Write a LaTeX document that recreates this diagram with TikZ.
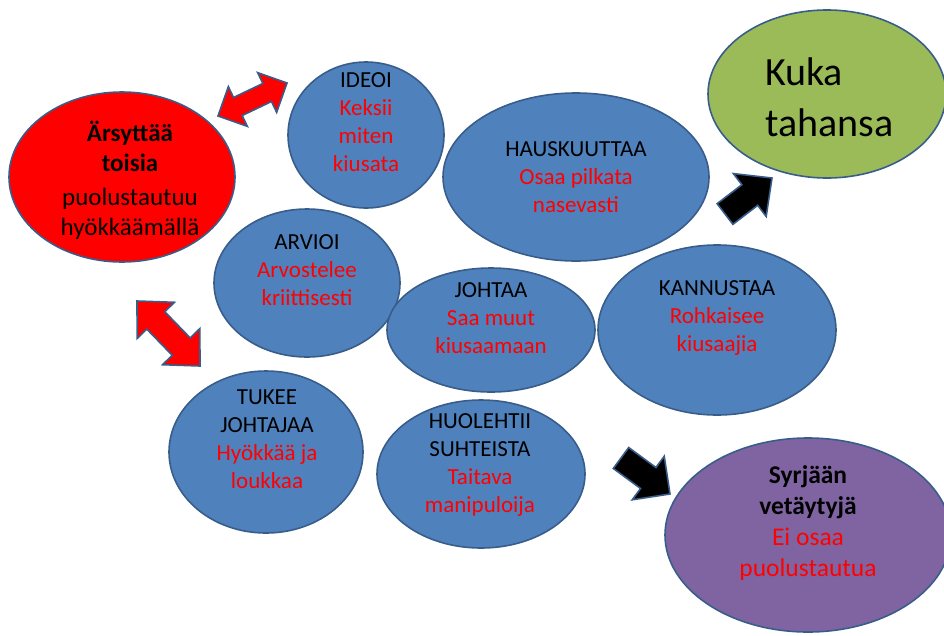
\documentclass[tikz,border=0pt]{standalone}
\usepackage{fontspec}
\setmainfont{Carlito}
\usetikzlibrary{shapes.geometric,calc}
\definecolor{blueF}{HTML}{4F81BD}
\definecolor{blueB}{HTML}{385D8A}
\definecolor{greenF}{HTML}{9BBB59}
\definecolor{purpleF}{HTML}{8064A2}
\definecolor{redT}{HTML}{FF0000}
\tikzset{
  bub/.style={ellipse, draw=blueB, line width=1.6pt, inner sep=0pt, fill=blueF},
  btxt/.style={align=center, font=\fontsize{23}{28}\selectfont, inner sep=0pt, text=black},
  bigtxt/.style={align=center, font=\fontsize{25}{30}\selectfont, inner sep=0pt, text=black},
  blockarrow/.style={draw=blueB, line width=1.6pt, line join=miter},
}
% double block arrow: #1 name, #2 end A, #3 end C, #4 head length, #5 head half width, #6 shaft half width, #7 fill
\newcommand{\myDbl}[7]{%
  \coordinate (#1p) at ($(#2)!#4!(#3)$);
  \coordinate (#1q) at ($(#3)!#4!(#2)$);
  \draw[blockarrow, fill=#7] (#2) -- ($(#1p)!#5!90:(#3)$) -- ($(#1p)!#6!90:(#3)$)
    -- ($(#1q)!#6!-90:(#2)$) -- ($(#1q)!#5!-90:(#2)$) -- (#3)
    -- ($(#1q)!#5!90:(#2)$) -- ($(#1q)!#6!90:(#2)$)
    -- ($(#1p)!#6!-90:(#3)$) -- ($(#1p)!#5!-90:(#3)$) -- cycle;
}
% single block arrow: #1 name, #2 tail, #3 tip, #4 head length, #5 head half width, #6 shaft half width, #7 fill
\newcommand{\mySgl}[7]{%
  \coordinate (#1q) at ($(#3)!#4!(#2)$);
  \draw[blockarrow, fill=#7] ($(#2)!#6!90:(#3)$) -- ($(#1q)!#6!-90:(#2)$) -- ($(#1q)!#5!-90:(#2)$)
    -- (#3) -- ($(#1q)!#5!90:(#2)$) -- ($(#1q)!#6!90:(#2)$) -- ($(#2)!#6!-90:(#3)$) -- cycle;
}
\begin{document}
\begin{tikzpicture}[x=1pt,y=-1pt]
\useasboundingbox (0,0) rectangle (944,635);

% ellipses
\node[bub, fill=redT, minimum width=226pt, minimum height=170pt] (red) at (122,177) {};
\node[bub, minimum width=156pt, minimum height=146pt] (ideoi) at (366,135) {};
\node[bub, minimum width=266pt, minimum height=168pt] (haus) at (576,177) {};
\node[bub, fill=greenF, minimum width=238pt, minimum height=168pt] (kuka) at (827,94) {};
\node[bub, minimum width=186pt, minimum height=148pt] (arvioi) at (307,283) {};
\node[bub, minimum width=208pt, minimum height=124pt] (johtaa) at (491,330) {};
\node[bub, minimum width=238pt, minimum height=170pt] (kannus) at (717,330) {};
\node[bub, minimum width=194pt, minimum height=162pt] (tukee) at (266,452) {};
\node[bub, minimum width=208pt, minimum height=148pt] (huol) at (481,474) {};
\node[bub, fill=purpleF, minimum width=286pt, minimum height=194pt] (syrj) at (808,535) {};

% texts
\node[bigtxt] (tRed) at (130,180) {\textbf{Ärsyttää}\\\textbf{toisia}\\[4pt]puolustautuu\\hyökkäämällä};
\node[btxt] (tIdeoi) at (366,122.5) {IDEOI\\\textcolor{redT}{Keksii}\\\textcolor{redT}{miten}\\\textcolor{redT}{kiusata}};
\node[btxt] (tHaus) at (576,177.5) {HAUSKUUTTAA\\\textcolor{redT}{Osaa pilkata}\\\textcolor{redT}{nasevasti}};
\node[align=left, font=\fontsize{40}{51}\selectfont, inner sep=0pt, anchor=west] (tKuka) at (765,97.5) {Kuka\\tahansa};
\node[btxt] (tArvioi) at (307,270) {ARVIOI\\\textcolor{redT}{Arvostelee}\\\textcolor{redT}{kriittisesti}};
\node[btxt] (tJohtaa) at (491,318) {JOHTAA\\\textcolor{redT}{Saa muut}\\\textcolor{redT}{kiusaamaan}};
\node[btxt] (tKannus) at (717,318) {KANNUSTAA\\\textcolor{redT}{Rohkaisee}\\\textcolor{redT}{kiusaajia}};
\node[btxt] (tTukee) at (267,439) {TUKEE\\JOHTAJAA\\\textcolor{redT}{Hyökkää ja}\\\textcolor{redT}{loukkaa}};
\node[btxt] (tHuol) at (480,464.5) {HUOLEHTII\\SUHTEISTA\\\textcolor{redT}{Taitava}\\\textcolor{redT}{manipuloija}};
\node[align=center, font=\fontsize{25.5}{31}\selectfont, inner sep=0pt] (tSyrj) at (808,523) {\textbf{Syrjään}\\\textbf{vetäytyjä}\\\textcolor{redT}{Ei osaa}\\\textcolor{redT}{puolustautua}};

% block arrows
\coordinate (a1A) at (218,116);
\coordinate (a1C) at (287,83);
\myDbl{a1}{a1A}{a1C}{22pt}{22pt}{10pt}{redT}
\coordinate (a2A) at (137,301);
\coordinate (a2C) at (200,366);
\myDbl{a2}{a2A}{a2C}{27pt}{26pt}{12.5pt}{redT}
\coordinate (a3T) at (725,214);
\coordinate (a3P) at (772,178);
\mySgl{a3}{a3T}{a3P}{28pt}{27pt}{13pt}{black}
\coordinate (a4T) at (621,458);
\coordinate (a4P) at (670,494);
\mySgl{a4}{a4T}{a4P}{27pt}{27pt}{13pt}{black}
\end{tikzpicture}
\end{document}
